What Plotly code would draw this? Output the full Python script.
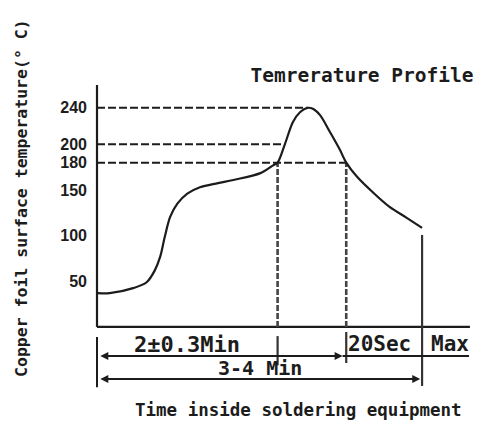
import plotly.graph_objects as go

# ---- data ----
time_min = [0.01, 0.14, 0.40, 0.55, 0.64, 0.70, 0.75, 0.81, 0.89, 1.00, 1.14, 1.34,
            1.51, 1.81, 1.95, 2.00, 2.08, 2.17, 2.25, 2.33, 2.39, 2.47, 2.58, 2.69,
            2.76, 2.88, 3.06, 3.24, 3.43, 3.60]
temp_c = [37, 37, 42.5, 49, 62, 77, 98.5, 120.5, 135, 146, 153, 157.5,
          161, 168.5, 177, 180, 200, 224.5, 235.5, 240, 239, 232, 213.5, 194,
          180, 164.5, 147, 131.5, 119.5, 108.5]
y_ticks = [50, 100, 150, 180, 200, 240]
level_temps = [240, 200, 180]
level_end_t = [2.33, 2.08, 2.76]
marker_t = [2.0, 2.76]           # 180°C crossings
total_t = 3.6                     # end of profile
axis_end_t = 4.13

title_text = "Temrerature Profile"
y_title = "Copper foil surface temperature(° C)"
x_title = "Time inside soldering equipment"

INK = "#1c1c1c"
MONO = "DejaVu Sans Mono"

# the page body has an 8px margin; the figure is sized/placed to compensate
W, H = 475, 413

fig = go.Figure()
fig.add_trace(go.Scatter(
    x=time_min, y=temp_c, mode="lines",
    line=dict(color=INK, width=2.2, shape="spline", smoothing=0.9),
    hoverinfo="skip"))

shapes = []
def line(x0, y0, x1, y1, dash="solid", width=2, color=INK):
    shapes.append(dict(type="line", xref="x", yref="y", x0=x0, y0=y0, x1=x1, y1=y1,
                       line=dict(color=color, width=width, dash=dash), layer="below"))

# axes
line(0, 0, 0, 265, width=2.2)
line(0, 0, axis_end_t, 0, width=2.2)
# dashed reference levels
for lv, te in zip(level_temps, level_end_t):
    line(0, lv, te, lv, dash="8px,3px", width=2)
# dashed verticals at 180 crossings
for mt in marker_t:
    line(mt, 0, mt, 180, dash="6px,2px", width=2.6, color="#444")
# dimension guides below the axis
line(0, -11, 0, -66, width=2)
line(marker_t[0], -10, marker_t[0], -42, width=2.2, color="#333")
line(marker_t[1], -5.5, marker_t[1], -39.5, width=2.2, color="#333")
line(total_t, 100.8, total_t, -64.6, width=2.2, color="#333")
line(2.72, -31.8, 4.12, -31.8, width=2)

annotations = []
# dimension arrows
annotations.append(dict(x=2.72, y=-31.8, ax=0.02, ay=-31.8, xref="x", yref="y",
                        axref="x", ayref="y", text="", showarrow=True,
                        arrowhead=2, arrowsize=0.8, arrowwidth=2, arrowcolor=INK,
                        arrowside="end+start"))
annotations.append(dict(x=total_t - 0.02, y=-57, ax=0.02, ay=-57, xref="x", yref="y",
                        axref="x", ayref="y", text="", showarrow=True,
                        arrowhead=2, arrowsize=0.8, arrowwidth=2, arrowcolor=INK,
                        arrowside="end+start"))

def label(t, T, txt, size, bold=True):
    annotations.append(dict(x=t, y=T, xref="x", yref="y", text=(f"<b>{txt}</b>" if bold else txt),
                            showarrow=False, font=dict(family=MONO, size=size, color=INK),
                            xanchor="center", yanchor="middle"))

label(1.0, -18.8, "2±0.3Min", 22)
label(3.13, -18.8, "20Sec", 21)
label(3.91, -18.8, "Max", 21)
label(1.8, -45, "3-4 Min", 20)
label(2.23, -91, x_title, 17.5)

# y-axis title (vertical)
annotations.append(dict(x=0, y=0.651, xref="paper", yref="paper", xshift=-66,
                        text=f"<b>{y_title}</b>", textangle=-90, showarrow=False,
                        font=dict(family=MONO, size=16.5, color=INK),
                        xanchor="center", yanchor="middle"))

fig.update_layout(
    width=W, height=H,
    margin=dict(l=80, r=3, t=72, b=3),
    paper_bgcolor="white", plot_bgcolor="white",
    showlegend=False,
    title=dict(text=f"<b>{title_text}</b>", x=(362 - 8) / W, y=1 - (75 - 8) / H,
               xanchor="center", yanchor="middle", xref="container", yref="container",
               font=dict(family=MONO, size=19.5, color=INK)),
    xaxis=dict(range=[-0.0997, 4.2414], visible=False, fixedrange=True),
    yaxis=dict(range=[-99.7, 270.5], tickvals=y_ticks, ticktext=[str(v) for v in y_ticks],
               showgrid=False, zeroline=False, showline=False, ticks="",
               tickfont=dict(family="Liberation Sans", size=16, color=INK, weight="bold"),
               fixedrange=True),
    shapes=shapes,
    annotations=annotations,
)

fig.write_html("out.html")
